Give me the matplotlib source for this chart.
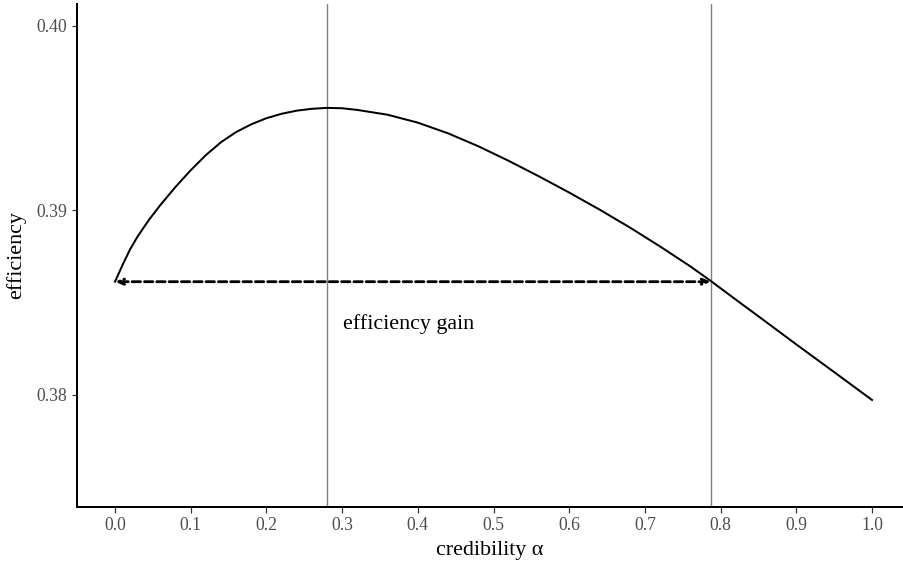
import matplotlib
matplotlib.use("Agg")
import matplotlib.pyplot as plt

# efficiency as a function of the credibility weight alpha
alpha = [0.0, 0.01, 0.02, 0.03, 0.045, 0.06, 0.08, 0.10, 0.12, 0.14, 0.16,
         0.18, 0.20, 0.22, 0.24, 0.26, 0.28, 0.30, 0.32, 0.36, 0.40, 0.44,
         0.48, 0.52, 0.56, 0.60, 0.64, 0.68, 0.72, 0.76, 0.787, 0.82, 0.86,
         0.90, 0.95, 1.00]
efficiency = [0.38614, 0.38705, 0.38790, 0.38860, 0.38950, 0.39030, 0.39128,
              0.39218, 0.39300, 0.39370, 0.39425, 0.39467, 0.39500, 0.39524,
              0.39541, 0.39551, 0.39556, 0.39554, 0.39545, 0.39519, 0.39476,
              0.39418, 0.39348, 0.39269, 0.39185, 0.39097, 0.39005, 0.38908,
              0.38805, 0.38697, 0.38618, 0.38517, 0.38396, 0.38274, 0.38124,
              0.37973]

alpha_opt = 0.28
alpha_equal = 0.787
eff_base = 0.38614
x_ticks = [0.0, 0.1, 0.2, 0.3, 0.4, 0.5, 0.6, 0.7, 0.8, 0.9, 1.0]
y_ticks = [0.38, 0.39, 0.40]

plt.rcParams['font.family'] = ['Liberation Serif', 'DejaVu Serif']

fig = plt.figure(figsize=(903 / 144, 563 / 144), dpi=144)
ax = fig.add_axes([77 / 903, 56 / 563, 826 / 903, 503 / 563])

ax.axvline(alpha_opt, color='#808080', linewidth=0.7)
ax.axvline(alpha_equal, color='#808080', linewidth=0.7)

ax.plot(alpha, efficiency, color='black', linewidth=1.0)

ax.annotate('', xy=(0.0, eff_base), xytext=(alpha_equal, eff_base),
            arrowprops=dict(arrowstyle='<->,head_length=0.3,head_width=0.13',
                            color='black', linewidth=1.4, linestyle=(0, (3, 1.4)),
                            shrinkA=0, shrinkB=0))
ax.text(0.301, 0.38385, 'efficiency gain', fontsize=11, va='center', ha='left')

# plot is cut off on the right, so the right limit is a bit short of 1.05
ax.set_xlim(-0.0502, 1.0409)
ax.set_ylim(0.37393, 0.40119)
ax.set_xticks(x_ticks)
ax.set_xticklabels([f'{v:.1f}' for v in x_ticks])
ax.set_yticks(y_ticks)
ax.set_yticklabels([f'{v:.2f}' for v in y_ticks])

for side in ['top', 'right']:
    ax.spines[side].set_visible(False)
for side in ['left', 'bottom']:
    ax.spines[side].set_linewidth(1.0)
ax.tick_params(axis='both', length=2.75, width=0.6, color='#333333',
               labelcolor='#4d4d4d', labelsize=8.8, pad=2.2)

ax.set_xlabel('credibility α', fontsize=11, labelpad=3.5)
ax.set_ylabel('efficiency', fontsize=11, labelpad=5)

fig.savefig('out.png', dpi=144)
